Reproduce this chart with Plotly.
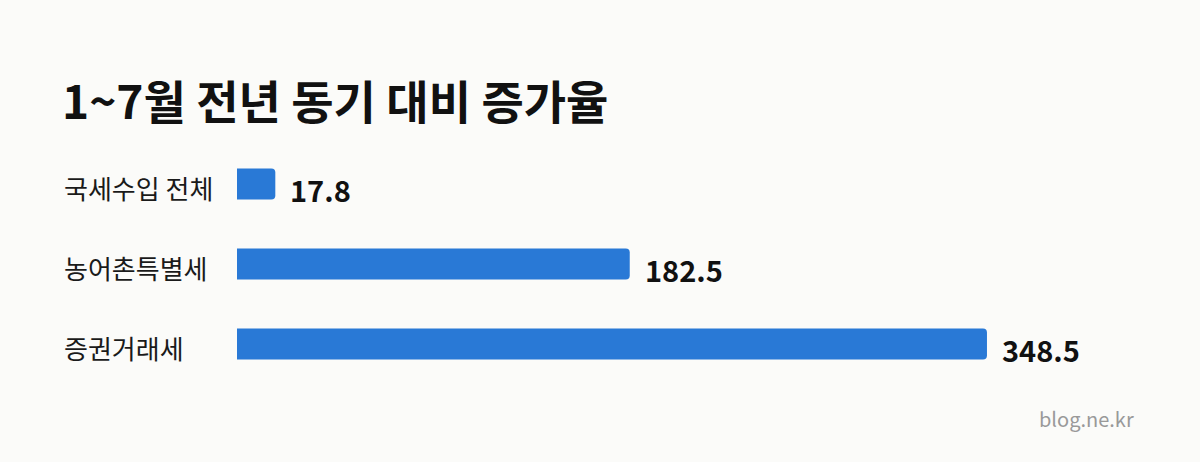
import plotly.graph_objects as go

categories = ["국세수입 전체", "농어촌특별세", "증권거래세"]
values = [17.8, 182.5, 348.5]
value_labels = ["17.8", "182.5", "348.5"]

font_kr = "Noto Sans CJK KR"
bleu = "#2979D6"
fond = "#FBFBF9"

fig = go.Figure()
fig.add_trace(go.Bar(
    x=values,
    y=categories,
    orientation="h",
    marker=dict(color=bleu, line=dict(width=0)),
    width=0.39,
    hoverinfo="skip"
))

# valeurs a droite des barres
for cat, val, lab in zip(categories, values, value_labels):
    fig.add_annotation(x=val, y=cat, text=lab, showarrow=False,
                       xanchor="left", yanchor="middle", xshift=13, yshift=-5,
                       font=dict(family=font_kr, size=29, color="#111111", weight="bold"))

# noms des categories
for cat in categories:
    fig.add_annotation(x=0, y=cat, xref="paper", text=cat, showarrow=False,
                       xanchor="left", yanchor="middle", xshift=-175, yshift=-3,
                       font=dict(family=font_kr, size=26, color="#1a1a1a"))

# filigrane (zone de trace : x 237..1200, y 144..384 px)
fig.add_annotation(x=(1136 - 237) / 963, y=(384 - 418) / 240, xref="paper", yref="paper",
                   text="blog.ne.kr", showarrow=False, xanchor="right", yanchor="middle",
                   font=dict(family=font_kr, size=20, color="#999999"))

fig.update_layout(
    width=1200, height=462,
    paper_bgcolor=fond, plot_bgcolor=fond,
    margin=dict(l=237, r=0, t=144, b=78),
    barcornerradius=4,
    title=dict(text="<b>1~7월 전년 동기 대비 증가율</b>", xref="container", x=62 / 1200,
               xanchor="left", yref="container", y=1 - 103 / 462, yanchor="middle",
               font=dict(family=font_kr, size=46, color="#111111")),
    xaxis=dict(range=[0, 963 / 2.152], visible=False, fixedrange=True),
    yaxis=dict(autorange="reversed", visible=False, fixedrange=True),
    showlegend=False
)

fig.write_html("out.html", config={"displayModeBar": False},
               post_script="document.body.style.margin='0';document.body.style.background='" + fond + "';")
